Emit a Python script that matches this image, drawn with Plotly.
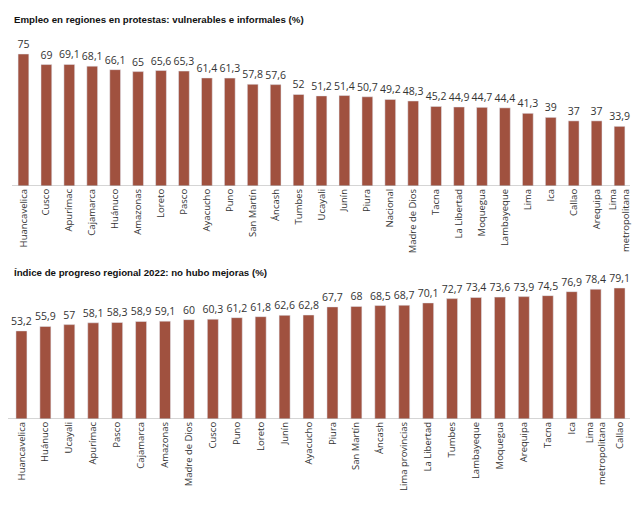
import plotly.graph_objects as go

top_regions = ["Huancavelica", "Cusco", "Apurímac", "Cajamarca", "Huánuco", "Amazonas", "Loreto",
               "Pasco", "Ayacucho", "Puno", "San Martín", "Áncash", "Tumbes", "Ucayali", "Junín",
               "Piura", "Nacional", "Madre de Dios", "Tacna", "La Libertad", "Moquegua",
               "Lambayeque", "Lima", "Ica", "Callao", "Arequipa", "Lima<br>metropolitana"]
top_values = [75, 69, 69.1, 68.1, 66.1, 65, 65.6, 65.3, 61.4, 61.3, 57.8, 57.6, 52, 51.2, 51.4,
              50.7, 49.2, 48.3, 45.2, 44.9, 44.7, 44.4, 41.3, 39, 37, 37, 33.9]

bot_regions = ["Huancavelica", "Huánuco", "Ucayali", "Apurímac", "Pasco", "Cajamarca", "Amazonas",
               "Madre de Dios", "Cusco", "Puno", "Loreto", "Junín", "Ayacucho", "Piura",
               "San Martín", "Áncash", "Lima provincias", "La Libertad", "Tumbes", "Lambayeque",
               "Moquegua", "Arequipa", "Tacna", "Ica", "Lima<br>metropolitana", "Callao"]
bot_values = [53.2, 55.9, 57, 58.1, 58.3, 58.9, 59.1, 60, 60.3, 61.2, 61.8, 62.6, 62.8, 67.7,
              68, 68.5, 68.7, 70.1, 72.7, 73.4, 73.6, 73.9, 74.5, 76.9, 78.4, 79.1]

title_top = "Empleo en regiones en protestas: vulnerables e informales (%)"
title_bot = "Índice de progreso regional 2022: no hubo mejoras (%)"

BAR = "#A0513F"
LABEL_FONT = dict(family="Open Sans, DejaVu Sans, sans-serif", size=9.5, color="#333333")
VALUE_FONT = dict(family="Open Sans, DejaVu Sans, sans-serif", size=10.5, color="#333333")
TITLE_FONT = dict(family="Liberation Sans, Arial, sans-serif", size=9.7, color="#111111")


def fmt(v):
    return str(v).replace(".", ",")


fig = go.Figure()
fig.add_trace(go.Bar(x=list(range(len(top_values))), y=top_values, marker_color=BAR, width=0.47,
                     text=[fmt(v) for v in top_values], textposition="outside", cliponaxis=False,
                     constraintext="none", textfont=VALUE_FONT,
                     xaxis="x", yaxis="y", hoverinfo="skip"))
fig.add_trace(go.Bar(x=list(range(len(bot_values))), y=bot_values, marker_color=BAR, width=0.46,
                     text=[fmt(v) for v in bot_values], textposition="outside", cliponaxis=False,
                     constraintext="none", textfont=VALUE_FONT,
                     xaxis="x2", yaxis="y2", hoverinfo="skip"))

# page content sits inside the default 8px body margin; size the figure to fit the window
W = 624.0
H = 496.0
fig.update_layout(
    width=624, height=496, margin=dict(l=0, r=0, t=0, b=0),
    paper_bgcolor="white", plot_bgcolor="white", showlegend=False,
    xaxis=dict(domain=[4 / W, 1], range=[-0.5, (W - 15.5) / 23],
               tickmode="array", tickvals=list(range(len(top_regions))), ticktext=top_regions,
               tickangle=-90, tickfont=LABEL_FONT, showgrid=False, zeroline=False,
               showline=False, ticks="", ticklabeloverflow="allow"),
    yaxis=dict(domain=[(H - 178) / H, (H - 32) / H], range=[0, 146 / 1.76], visible=False,
               showgrid=False),
    xaxis2=dict(domain=[1.5 / W, 1], range=[-0.5, (W - 13.5) / 24],
                tickmode="array", tickvals=list(range(len(bot_regions))), ticktext=bot_regions,
                tickangle=-90, tickfont=LABEL_FONT, showgrid=False, zeroline=False,
                showline=False, ticks="", anchor="y2", ticklabeloverflow="allow"),
    yaxis2=dict(domain=[(H - 411) / H, (H - 272) / H], range=[0, 139 / 1.656], visible=False,
                showgrid=False, anchor="x2"),
    annotations=[
        dict(text="<b>" + title_top + "</b>", x=4 / W, y=(H - 12) / H, xref="paper", yref="paper",
             xanchor="left", yanchor="middle", showarrow=False, font=TITLE_FONT),
        dict(text="<b>" + title_bot + "</b>", x=4 / W, y=(H - 264) / H, xref="paper", yref="paper",
             xanchor="left", yanchor="middle", showarrow=False, font=TITLE_FONT),
    ],
    shapes=[
        dict(type="line", xref="paper", yref="y", x0=4 / W, x1=624 / W, y0=0, y1=0,
             line=dict(color="#AAAAAA", width=1)),
        dict(type="line", xref="paper", yref="y2", x0=0, x1=624 / W, y0=0, y1=0,
             line=dict(color="#AAAAAA", width=1)),
    ],
)

fig.write_html("out.html")
